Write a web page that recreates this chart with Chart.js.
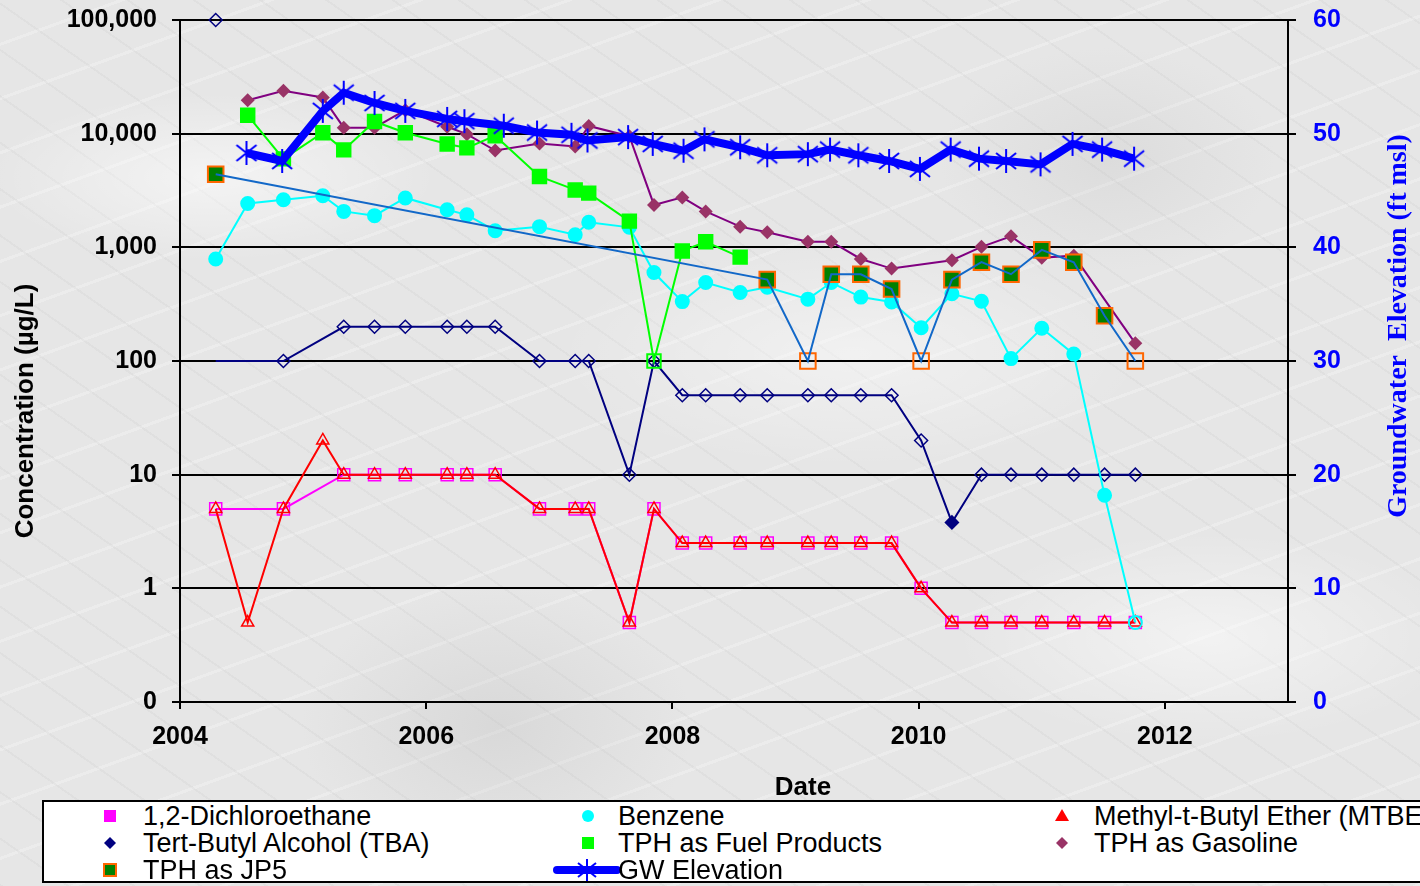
<!DOCTYPE html>
<html>
<head>
<meta charset="utf-8">
<title>Concentrations and Groundwater Elevation</title>
<script src="https://cdn.jsdelivr.net/npm/chart.js@4.4.1/dist/chart.umd.min.js"></script>
<style>
    html, body { margin: 0; padding: 0; }
    body {
        width: 1420px;
        height: 886px;
        overflow: hidden;
        background-color: #e6e6e6;
        background-image:
            radial-gradient(ellipse 320px 120px at 15% 20%, rgba(255,255,255,0.55), transparent 70%),
            radial-gradient(ellipse 420px 160px at 60% 40%, rgba(255,255,255,0.45), transparent 70%),
            radial-gradient(ellipse 360px 150px at 85% 72%, rgba(255,255,255,0.5), transparent 70%),
            radial-gradient(ellipse 280px 200px at 35% 82%, rgba(185,185,185,0.3), transparent 70%),
            radial-gradient(ellipse 240px 160px at 78% 18%, rgba(190,190,190,0.25), transparent 70%),
            repeating-linear-gradient(35deg, rgba(150,150,150,0.08) 0 2px, transparent 2px 38px),
            repeating-linear-gradient(-20deg, rgba(255,255,255,0.25) 0 3px, transparent 3px 51px);
        font-family: "Liberation Sans", Arial, sans-serif;
    }
    #wrap { position: relative; width: 1420px; height: 886px; }
    #chart { position: absolute; left: 0; top: 0; }
    #legend {
        position: absolute;
        left: 42px;
        top: 800px;
        width: 1400px;
        height: 79px;
        background: #fff;
        border: 2px solid #000;
    }
    #legend .txt {
        position: absolute;
        font-size: 27px;
        line-height: 30px;
        color: #000;
        white-space: nowrap;
    }
    #legend svg { position: absolute; overflow: visible; }
</style>
</head>
<body>
<div id="wrap">
    <canvas id="chart" width="1420" height="886"></canvas>
    <div id="legend">
        <svg style="left:60px;top:8px" width="12" height="12"><rect x="0" y="0" width="12" height="12" fill="#ff00ff"/></svg>
        <span class="txt" style="left:99px;top:-1px">1,2-Dichloroethane</span>
        <svg style="left:60px;top:35px" width="12" height="12"><polygon points="6,0 12,6 6,12 0,6" fill="#000080"/></svg>
        <span class="txt" style="left:99px;top:26px">Tert-Butyl Alcohol (TBA)</span>
        <svg style="left:59px;top:61px" width="14" height="14"><rect x="1" y="1" width="12" height="12" fill="#008000" stroke="#ff6600" stroke-width="2"/></svg>
        <span class="txt" style="left:99px;top:53px">TPH as JP5</span>

        <svg style="left:538px;top:8px" width="12" height="12"><circle cx="6" cy="6" r="6" fill="#00ffff"/></svg>
        <span class="txt" style="left:574px;top:-1px">Benzene</span>
        <svg style="left:538px;top:35px" width="12" height="12"><rect x="0" y="0" width="12" height="12" fill="#00ff00"/></svg>
        <span class="txt" style="left:574px;top:26px">TPH as Fuel Products</span>
        <svg style="left:513px;top:56px" width="60" height="24">
            <line x1="0" y1="12" x2="60" y2="12" stroke="#0000ff" stroke-width="8" stroke-linecap="round"/>
            <line x1="30" y1="1" x2="30" y2="23" stroke="#0000ff" stroke-width="2"/>
            <line x1="21" y1="5" x2="39" y2="19" stroke="#0000ff" stroke-width="2"/>
            <line x1="21" y1="19" x2="39" y2="5" stroke="#0000ff" stroke-width="2"/>
        </svg>
        <span class="txt" style="left:574px;top:53px">GW Elevation</span>

        <svg style="left:1011px;top:7px" width="14" height="12"><polygon points="7,0 14,12 0,12" fill="#ff0000"/></svg>
        <span class="txt" style="left:1050px;top:-1px">Methyl-t-Butyl Ether (MTBE)</span>
        <svg style="left:1012px;top:35px" width="12" height="12"><polygon points="6,0 12,6 6,12 0,6" fill="#993366"/></svg>
        <span class="txt" style="left:1050px;top:26px">TPH as Gasoline</span>
    </div>
</div>
<script>
// Sampling dates (decimal years) for the concentration series
const sampleDates = [2004.29, 2004.55, 2004.84, 2005.16, 2005.33, 2005.58, 2005.83, 2006.17, 2006.33, 2006.56,
    2006.92, 2007.21, 2007.32, 2007.65, 2007.85, 2008.08, 2008.27, 2008.55, 2008.77, 2009.10,
    2009.29, 2009.53, 2009.78, 2010.02, 2010.27, 2010.51, 2010.75, 2011.00, 2011.26, 2011.51, 2011.76];

// Concentrations in ug/L (null = not sampled)
const dca = [5, null, 5, null, 10, 10, 10, 10, 10, 10, 5, 5, 5, 0.5, 5, 2.5, 2.5, 2.5, 2.5, 2.5,
    2.5, 2.5, 2.5, 1, 0.5, 0.5, 0.5, 0.5, 0.5, 0.5, 0.5];
const benzene = [790, 2430, 2620, 2840, 2070, 1900, 2720, 2140, 1930, 1400, 1520, 1290, 1660, 1500, 600, 333,
    490, 400, 445, 350, 490, 365, 330, 196, 390, 335, 105, 194, 115, 6.6, 0.5];
const mtbe = [5, 0.5, 5, 20, 10, 10, 10, 10, 10, 10, 5, 5, 5, 0.5, 5, 2.5, 2.5, 2.5, 2.5, 2.5,
    2.5, 2.5, 2.5, 1, 0.5, 0.5, 0.5, 0.5, 0.5, 0.5, 0.5];
const tba = [100, null, 100, null, 200, 200, 200, 200, 200, 200, 100, 100, 100, 10, 100, 50, 50, 50, 50, 50,
    50, 50, 50, 20, 3.8, 10, 10, 10, 10, 10, 10];
const tphFuel = [null, 14500, 6000, 10200, 7200, 12800, 10200, 8100, 7500, 9600, 4200, 3200, 3000, 1700, 100, 930,
    1120, 820, null, null, null, null, null, null, null, null, null, null, null, null, null];
const tphGas = [null, 19700, 23800, 20800, 11300, 11300, 16100, 11500, 9900, 7100, 8200, 7700, 11700, 9500, 2360, 2750,
    2070, 1520, 1360, 1120, 1120, 790, 650, null, 770, 1010, 1250, 810, 845, null, 143];
const tphJP5 = [4400, null, null, null, null, null, null, null, null, null, null, null, null, null, null, null,
    null, null, 520, 100, 580, 580, 430, 100, 520, 740, 580, 950, 740, 250, 100];

// Non-detects (hollow markers), by sample index
const benzeneND = [30];
const fuelND = [14];
const jp5ND = [19, 23, 30];
const tbaDetects = [24];           // every other TBA result is a non-detect
const tbaFirstLimit = [100000];    // reporting limit plotted for the first TBA sample

// Groundwater elevation (ft msl)
const gwDates = [2004.54, 2004.83, 2005.16, 2005.33, 2005.58, 2005.83, 2006.17, 2006.31, 2006.63, 2006.90,
    2007.18, 2007.31, 2007.64, 2007.84, 2008.09, 2008.26, 2008.55, 2008.77, 2009.10, 2009.28,
    2009.51, 2009.76, 2010.01, 2010.26, 2010.49, 2010.71, 2010.99, 2011.25, 2011.49, 2011.75];
const gwElev = [48.3, 47.6, 52.0, 53.6, 52.7, 52.0, 51.3, 51.1, 50.7, 50.1, 49.9, 49.4, 49.7, 49.1, 48.5, 49.5,
    48.8, 48.1, 48.2, 48.6, 48.1, 47.6, 46.9, 48.6, 47.8, 47.6, 47.3, 49.1, 48.6, 47.8];

// Axis ticks
const yearTicks = [2004, 2006, 2008, 2010, 2012];
const concTicks = [0.1, 1, 10, 100, 1000, 10000, 100000];

const FONT = '"Liberation Sans", Arial, sans-serif';
const NONE = 'rgba(0,0,0,0)';

function pts(xs, ys) {
    return xs.map((x, i) => ({ x: x, y: ys[i] }));
}

// Excel style asterisk marker
function makeAsterisk() {
    const c = document.createElement('canvas');
    c.width = 24; c.height = 26;
    const g = c.getContext('2d');
    g.strokeStyle = '#0000ff';
    g.lineWidth = 2;
    g.beginPath();
    g.moveTo(12, 1); g.lineTo(12, 25);
    g.moveTo(2, 5); g.lineTo(22, 21);
    g.moveTo(2, 21); g.lineTo(22, 5);
    g.stroke();
    return c;
}

// keep the plot area where the reference has it
function fixVertical(width) {
    return axis => {
        axis.width = width;
        axis.paddingTop = 0;
        axis.paddingBottom = 0;
    };
}

const axisTitles = {
    id: 'axisTitles',
    afterDraw(chart) {
        const ctx = chart.ctx;
        ctx.save();
        ctx.textAlign = 'center';
        ctx.textBaseline = 'middle';
        ctx.fillStyle = '#000';
        ctx.font = 'bold 26px ' + FONT;
        ctx.fillText('Date', 803, 788);
        ctx.save();
        ctx.translate(26, 411);
        ctx.rotate(-Math.PI / 2);
        ctx.fillText('Concentration (µg/L)', 0, 0);
        ctx.restore();
        ctx.fillStyle = '#0000ff';
        ctx.font = 'bold 28px "Liberation Serif", "Times New Roman", serif';
        ctx.translate(1399, 326);
        ctx.rotate(-Math.PI / 2);
        ctx.fillText('Groundwater  Elevation (ft msl)', 0, 0);
        ctx.restore();
    }
};

const tickFont = { family: FONT, size: 25, weight: 'bold' };

new Chart(document.getElementById('chart'), {
    type: 'scatter',
    data: {
        datasets: [
            {
                label: 'GW Elevation',
                data: pts(gwDates, gwElev),
                yAxisID: 'y2',
                showLine: true,
                borderColor: '#0000ff',
                borderWidth: 8,
                pointStyle: makeAsterisk(),
                pointRadius: 12,
                order: 0
            },
            {
                label: 'TPH as JP5 line',
                data: pts(sampleDates, tphJP5),
                showLine: true,
                spanGaps: true,
                borderColor: '#1268c8',
                borderWidth: 2,
                pointRadius: 0,
                order: 1
            },
            {
                label: 'TPH as JP5',
                data: pts(sampleDates, tphJP5),
                pointStyle: 'rect',
                pointRadius: 11,
                pointBorderWidth: 2,
                pointBorderColor: '#ff6600',
                pointBackgroundColor: ctx => jp5ND.includes(ctx.dataIndex) ? NONE : '#008000',
                order: 2
            },
            {
                label: 'TPH as Fuel Products',
                data: pts(sampleDates, tphFuel),
                showLine: true,
                spanGaps: true,
                borderColor: '#00ff00',
                borderWidth: 2,
                pointStyle: 'rect',
                pointRadius: 9.5,
                pointBorderWidth: 2,
                pointBorderColor: '#00ff00',
                pointBackgroundColor: ctx => fuelND.includes(ctx.dataIndex) ? NONE : '#00ff00',
                order: 3
            },
            {
                label: 'TPH as Gasoline',
                data: pts(sampleDates, tphGas),
                showLine: true,
                spanGaps: true,
                borderColor: '#800080',
                borderWidth: 2,
                pointStyle: 'rectRot',
                pointRadius: 7,
                pointBorderWidth: 0,
                pointBackgroundColor: '#993366',
                order: 4
            },
            {
                label: 'Benzene',
                data: pts(sampleDates, benzene),
                showLine: true,
                spanGaps: true,
                borderColor: '#00ffff',
                borderWidth: 2,
                pointStyle: 'circle',
                pointRadius: 6.5,
                pointBorderWidth: 2,
                pointBorderColor: '#00ffff',
                pointBackgroundColor: ctx => benzeneND.includes(ctx.dataIndex) ? NONE : '#00ffff',
                order: 5
            },
            {
                label: 'Tert-Butyl Alcohol (TBA)',
                data: pts(sampleDates, tba),
                showLine: true,
                spanGaps: true,
                borderColor: '#000080',
                borderWidth: 2,
                pointStyle: 'rectRot',
                pointRadius: ctx => ctx.dataIndex === 0 ? 0 : 6.5,
                pointBorderWidth: 1.5,
                pointBorderColor: '#000080',
                pointBackgroundColor: ctx => tbaDetects.includes(ctx.dataIndex) ? '#000080' : NONE,
                order: 6
            },
            {
                label: 'TBA reporting limit',
                data: pts(sampleDates.slice(0, 1), tbaFirstLimit),
                pointStyle: 'rectRot',
                pointRadius: 6.5,
                pointBorderWidth: 1.5,
                pointBorderColor: '#000080',
                pointBackgroundColor: NONE,
                order: 6
            },
            {
                label: 'Methyl-t-Butyl Ether (MTBE)',
                data: pts(sampleDates, mtbe),
                showLine: true,
                spanGaps: true,
                borderColor: '#ff0000',
                borderWidth: 2,
                pointStyle: 'triangle',
                pointRadius: 7,
                pointBorderWidth: 1.5,
                pointBorderColor: '#ff0000',
                pointBackgroundColor: NONE,
                order: 7
            },
            {
                label: '1,2-Dichloroethane',
                data: pts(sampleDates, dca),
                showLine: true,
                spanGaps: true,
                borderColor: '#ff00ff',
                borderWidth: 2,
                pointStyle: 'rect',
                pointRadius: 8.5,
                pointBorderWidth: 1.5,
                pointBorderColor: '#ff00ff',
                pointBackgroundColor: NONE,
                order: 8
            }
        ]
    },
    options: {
        responsive: false,
        animation: false,
        events: [],
        clip: false,
        layout: { padding: { top: 19, left: 0, right: 0, bottom: 0 } },
        plugins: {
            legend: { display: false },
            tooltip: { enabled: false }
        },
        scales: {
            x: {
                type: 'linear',
                min: 2004,
                max: 2013,
                afterBuildTicks: axis => { axis.ticks = yearTicks.map(v => ({ value: v })); },
                afterFit: axis => { axis.height = 184; },
                ticks: {
                    color: '#000',
                    font: tickFont,
                    padding: 13,
                    maxRotation: 0,
                    autoSkip: false,
                    callback: v => String(v)
                },
                grid: { drawOnChartArea: false, color: '#000', lineWidth: 2, tickLength: 7 },
                border: { color: '#000', width: 2 }
            },
            y: {
                type: 'logarithmic',
                position: 'left',
                min: 0.1,
                max: 100000,
                afterBuildTicks: axis => { axis.ticks = concTicks.map(v => ({ value: v })); },
                afterFit: fixVertical(180),
                ticks: {
                    color: '#000',
                    font: tickFont,
                    padding: 15,
                    autoSkip: false,
                    callback: v => v < 1 ? '0' : Number(v).toLocaleString('en-US')
                },
                grid: { color: '#000', lineWidth: 2, tickLength: 8 },
                border: { color: '#000', width: 2 }
            },
            y2: {
                type: 'linear',
                position: 'right',
                min: 0,
                max: 60,
                afterFit: fixVertical(132),
                ticks: {
                    stepSize: 10,
                    color: '#0000ff',
                    font: tickFont,
                    padding: 17
                },
                grid: { drawOnChartArea: false, color: '#000', lineWidth: 2, tickLength: 8 },
                border: { color: '#000', width: 2 }
            }
        }
    },
    plugins: [axisTitles]
});
</script>
</body>
</html>
